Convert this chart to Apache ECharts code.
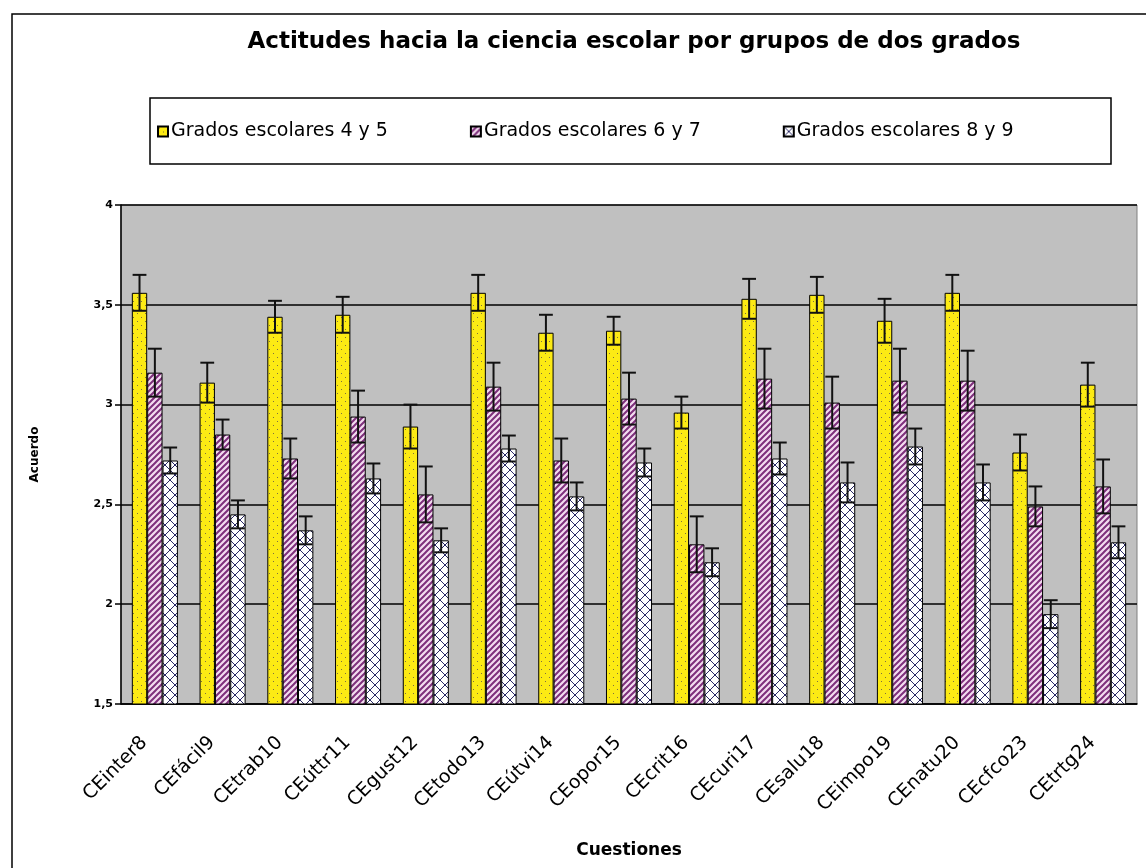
<!DOCTYPE html>
<html>
<head>
<meta charset="utf-8">
<title>Actitudes hacia la ciencia escolar</title>
<script src="https://cdn.jsdelivr.net/npm/echarts@6/dist/echarts.min.js"></script>
<style>
    body { margin: 0; background: #fff; }
    #chart { width: 1146px; height: 868px; }
</style>
</head>
<body>
<div id="chart"></div>
<script>
// datos
var categories = ['CEinter8', 'CEfácil9', 'CEtrab10', 'CEúttr11', 'CEgust12', 'CEtodo13', 'CEútvi14', 'CEopor15',
    'CEcrit16', 'CEcuri17', 'CEsalu18', 'CEimpo19', 'CEnatu20', 'CEcfco23', 'CEtrtg24'];
var seriesNames = ['Grados escolares 4 y 5', 'Grados escolares 6 y 7', 'Grados escolares 8 y 9'];

var grados45 = [3.56, 3.11, 3.44, 3.45, 2.89, 3.56, 3.36, 3.37, 2.96, 3.53, 3.55, 3.42, 3.56, 2.76, 3.10];
var grados67 = [3.16, 2.85, 2.73, 2.94, 2.55, 3.09, 2.72, 3.03, 2.30, 3.13, 3.01, 3.12, 3.12, 2.49, 2.59];
var grados89 = [2.72, 2.45, 2.37, 2.63, 2.32, 2.78, 2.54, 2.71, 2.21, 2.73, 2.61, 2.79, 2.61, 1.95, 2.31];

// media amplitud de las barras de error
var err45 = [0.09, 0.10, 0.08, 0.09, 0.11, 0.09, 0.09, 0.07, 0.08, 0.10, 0.09, 0.11, 0.09, 0.09, 0.11];
var err67 = [0.12, 0.075, 0.10, 0.13, 0.14, 0.12, 0.11, 0.13, 0.14, 0.15, 0.13, 0.16, 0.15, 0.10, 0.135];
var err89 = [0.065, 0.07, 0.07, 0.075, 0.06, 0.065, 0.07, 0.07, 0.07, 0.08, 0.10, 0.09, 0.09, 0.07, 0.08];

var yTicks = { min: 1.5, max: 4, interval: 0.5 };

var CATEGORY_GAP = 0.32;

// tramas tipo Excel
function makePattern(size, draw) {
    var c = document.createElement('canvas');
    c.width = size;
    c.height = size;
    draw(c.getContext('2d'), size);
    return { image: c, repeat: 'repeat' };
}

var dotsYellow = makePattern(8, function (ctx, s) {
    ctx.fillStyle = '#fcea14';
    ctx.fillRect(0, 0, s, s);
    ctx.fillStyle = '#7d7040';
    ctx.fillRect(1, 1, 1, 1);
    ctx.fillRect(5, 5, 1, 1);
});

var stripesPurple = makePattern(6, function (ctx, s) {
    ctx.fillStyle = '#f3dcf0';
    ctx.fillRect(0, 0, s, s);
    ctx.strokeStyle = '#7e2f7c';
    ctx.lineWidth = 2;
    ctx.beginPath();
    ctx.moveTo(-1, s + 1); ctx.lineTo(s + 1, -1);
    ctx.moveTo(-1, 1); ctx.lineTo(1, -1);
    ctx.moveTo(s - 1, s + 1); ctx.lineTo(s + 1, s - 1);
    ctx.stroke();
});

var crossWhite = makePattern(10, function (ctx, s) {
    ctx.fillStyle = '#ffffff';
    ctx.fillRect(0, 0, s, s);
    ctx.strokeStyle = '#2a2a66';
    ctx.lineWidth = 1;
    ctx.beginPath();
    ctx.moveTo(0, 0); ctx.lineTo(s, s);
    ctx.moveTo(0, s); ctx.lineTo(s, 0);
    ctx.stroke();
});

var fills = [dotsYellow, stripesPurple, crossWhite];
var values = [grados45, grados67, grados89];
var errors = [err45, err67, err89];

function barSeries(idx) {
    return {
        name: seriesNames[idx],
        type: 'bar',
        barGap: '0%',
        barCategoryGap: (CATEGORY_GAP * 100) + '%',
        itemStyle: {
            color: fills[idx],
            borderColor: '#000',
            borderWidth: 1
        },
        data: values[idx]
    };
}

function errorSeries(idx) {
    return {
        type: 'custom',
        z: 10,
        silent: true,
        encode: { x: 0, y: 1 },
        renderItem: function (params, api) {
            var cat = api.value(0);
            var v = api.value(1);
            var e = api.value(2);
            var band = api.size([1, 0])[0];
            var group = band * (1 - CATEGORY_GAP);
            var bw = group / 3;
            var center = api.coord([cat, v]);
            var x = center[0] - group / 2 + bw * (idx + 0.5);
            var yTop = api.coord([cat, v + e])[1];
            var yBot = api.coord([cat, v - e])[1];
            var half = bw * 0.45;
            var st = { stroke: '#111', lineWidth: 2 };
            return {
                type: 'group',
                children: [
                    { type: 'line', shape: { x1: x, y1: yTop, x2: x, y2: yBot }, style: st },
                    { type: 'line', shape: { x1: x - half, y1: yTop, x2: x + half, y2: yTop }, style: st },
                    { type: 'line', shape: { x1: x - half, y1: yBot, x2: x + half, y2: yBot }, style: st }
                ]
            };
        },
        data: values[idx].map(function (v, i) { return [i, v, errors[idx][i]]; })
    };
}

var chart = echarts.init(document.getElementById('chart'));

var option = {
    animation: false,
    backgroundColor: '#fff',
    title: {
        text: 'Actitudes hacia la ciencia escolar por grupos de dos grados',
        left: 629,
        textAlign: 'center',
        top: 26,
        textStyle: {
            fontFamily: 'DejaVu Sans',
            fontWeight: 'bold',
            fontSize: 23,
            color: '#000'
        }
    },
    legend: {
        data: seriesNames,
        left: 152,
        top: 117,
        selectedMode: false,
        icon: 'rect',
        itemWidth: 10,
        itemHeight: 10,
        itemGap: 82,
        textStyle: {
            fontFamily: 'DejaVu Sans',
            fontSize: 19,
            color: '#000',
            padding: [0, 0, 0, -2]
        }
    },
    graphic: [
        {
            type: 'rect',
            z: -1,
            shape: { x: 12, y: 14, width: 1160, height: 880 },
            style: { fill: null, stroke: '#000', lineWidth: 1.5 }
        },
        {
            type: 'rect',
            z: -1,
            shape: { x: 150, y: 98, width: 961, height: 66 },
            style: { fill: null, stroke: '#000', lineWidth: 1.5 }
        }
    ],
    grid: {
        left: 121,
        right: 9,
        top: 205,
        bottom: 164,
        show: true,
        backgroundColor: '#c0c0c0',
        borderColor: '#808080',
        borderWidth: 1
    },
    xAxis: {
        type: 'category',
        data: categories,
        name: 'Cuestiones',
        nameLocation: 'middle',
        nameGap: 138,
        nameTextStyle: {
            fontFamily: 'DejaVu Sans',
            fontWeight: 'bold',
            fontSize: 17,
            color: '#000'
        },
        axisLine: { lineStyle: { color: '#000', width: 1.5 } },
        axisTick: { length: 7, lineStyle: { color: '#000', width: 1.5 } },
        axisLabel: {
            interval: 0,
            rotate: 45,
            margin: 25,
            padding: [0, 15, 0, 0],
            fontFamily: 'DejaVu Sans',
            fontSize: 19,
            color: '#000'
        }
    },
    yAxis: {
        type: 'value',
        min: yTicks.min,
        max: yTicks.max,
        interval: yTicks.interval,
        name: 'Acuerdo',
        nameLocation: 'middle',
        nameGap: 80,
        nameRotate: 90,
        nameTextStyle: {
            fontFamily: 'DejaVu Sans',
            fontWeight: 'bold',
            fontSize: 12,
            color: '#000'
        },
        axisLine: { show: true, lineStyle: { color: '#000', width: 1.5 } },
        axisTick: { show: true, length: 6, lineStyle: { color: '#000', width: 1.5 } },
        axisLabel: {
            margin: 8,
            fontFamily: 'DejaVu Sans',
            fontWeight: 'bold',
            fontSize: 11,
            color: '#000',
            formatter: function (v) { return String(v).replace('.', ','); }
        },
        splitLine: { lineStyle: { color: '#000', width: 1.5 } }
    },
    series: [
        barSeries(0), barSeries(1), barSeries(2),
        errorSeries(0), errorSeries(1), errorSeries(2)
    ]
};

chart.setOption(option);
</script>
</body>
</html>
